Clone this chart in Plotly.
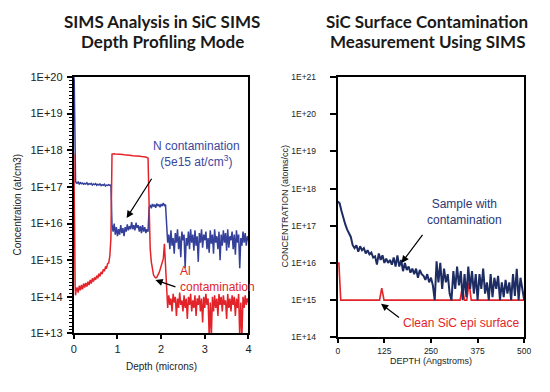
import numpy as np
import plotly.graph_objects as go

# ---------------- Left chart data (depth in microns) ----------------
left_depth_head = [0.0, 0.01, 0.02, 0.03, 0.04]
left_depth_body = list(np.round(np.arange(0.05, 4.0001, 0.025), 3))
left_depth = left_depth_head + left_depth_body

n_conc = (
    [1e20, 8e19, 1e19, 3e17, 1.5e17]
    + [1.3e17, 1.25e17, 1.35e17, 1.2e17, 1.3e17, 1.22e17, 1.28e17, 1.18e17, 1.25e17, 1.2e17,
       1.3e17, 1.15e17, 1.22e17, 1.18e17, 1.25e17, 1.12e17, 1.2e17, 1.15e17, 1.22e17, 1.1e17,
       1.18e17, 1.12e17, 1.2e17, 1.08e17, 1.15e17, 1.1e17, 1.18e17, 1.05e17, 1.12e17, 1.1e17,
       1.15e17, 1.1e17, 1.12e17]
    + [9e15, 6e15, 1e16, 5e15, 8e15, 4.5e15, 7e15, 5e15, 9e15, 5.5e15,
       7.5e15, 4.5e15, 8e15, 6e15, 9.5e15, 6.5e15, 8.5e15, 7e15, 1.1e16, 7e15,
       9e15, 6.5e15, 1.05e16, 7.5e15, 9e15, 6e15, 8.5e15, 5.5e15, 9e15, 6e15,
       8e15, 5.5e15, 7e15, 6e15]
    + [2.8e16, 3.2e16, 2.6e16, 3.4e16, 2.9e16, 3.3e16, 2.7e16, 3.5e16, 3e16, 3.3e16,
       2.8e16, 3.4e16, 3e16, 3.6e16, 3.1e16, 3.3e16]
    + [6e15, 3e15, 5e15, 2e15, 6.5e15, 2.5e15, 4e15, 1.5e15, 5.5e15, 3e15,
       7e15, 2e15, 4.5e15, 1.2e15, 6e15, 3.5e15, 5e15, 6e14, 4e15, 2.5e15,
       6e15, 2e15, 7e15, 3e15, 5e15, 1.8e15, 6.5e15, 2.5e15, 4.5e15, 9e14,
       5.5e15, 3e15, 7e15, 2.2e15, 5e15, 3.5e15, 6e15, 2e15, 4e15, 1.6e15,
       6.5e15, 2.8e15, 5e15, 1.5e15, 7e15, 3e15, 4.5e15, 2e15, 6e15, 1e15,
       5e15, 2.5e15, 6.5e15, 3e15, 5.5e15, 1.8e15, 7e15, 2.2e15, 4.5e15, 3.5e15,
       6e15, 2e15, 5e15, 1.4e15, 6.5e15, 3e15, 5e15, 6e14, 4e15, 2.5e15,
       6e15, 3e15, 5.5e15, 2.5e15, 4.5e15, 3.5e15]
)

al_conc = (
    [8e17, 2e17, 5e15, 2e14, 1.1e14]
    + [1.4e14, 1.8e14, 1.3e14, 2e14, 1.5e14, 2.1e14, 1.6e14, 2.3e14, 1.8e14, 2.4e14,
       1.9e14, 2.6e14, 2.1e14, 2.9e14, 2.3e14, 3.2e14, 2.6e14, 3.4e14, 2.9e14, 3.8e14,
       3.2e14, 4.3e14, 3.6e14, 4.8e14, 4.2e14, 5.6e14, 5e14, 6.5e14, 6.2e14, 8e14,
       8.5e14, 1.3e15, 4e15]
    + [7.8e17, 8e17, 8e17, 7.9e17, 7.9e17, 7.8e17, 7.8e17, 7.7e17, 7.7e17, 7.6e17,
       7.6e17, 7.5e17, 7.5e17, 7.4e17, 7.4e17, 7.3e17, 7.3e17, 7.2e17, 7.2e17, 7.1e17,
       7.1e17, 7e17, 7e17, 6.9e17, 6.9e17, 6.8e17, 6.8e17, 6.7e17, 6.7e17, 6.6e17,
       6.6e17, 6.5e17, 6.3e17, 6.1e17]
    + [3e16, 2e15, 9e14, 5.5e14, 4e14, 3.5e14, 3.3e14, 3.4e14, 3.8e14, 4.5e14,
       5.5e14, 7e14, 8.5e14, 1.1e15, 2.8e15, 8e14]
    + [1e14, 5e13, 1.1e14, 6e13, 9e13, 4e13, 1.2e14, 7e13, 1e14, 3e13,
       9e13, 5e13, 1.3e14, 6e13, 8e13, 4e13, 1.1e14, 5e13, 9e13, 2.5e13,
       1e14, 6e13, 1.2e14, 4e13, 8e13, 5e13, 1.1e14, 3e13, 9e13, 6e13,
       1.1e14, 4e13, 9e13, 2e13, 1e14, 5e13, 1.2e14, 6e13, 9e13, 8e12,
       7e13, 8e12, 1e14, 4e13, 1.1e14, 5e13, 9e13, 3e13, 1.2e14, 6e13,
       1e14, 4e13, 1.1e14, 6e13, 8e13, 2.5e13, 1.2e14, 5e13, 9e13, 4e13,
       1.1e14, 6e13, 1e14, 3e13, 9e13, 5e13, 1.2e14, 8e12, 7e13, 8e12,
       1e14, 5e13, 1.1e14, 6e13, 9e13, 7e13]
)

left_ytickvals = [1e13, 1e14, 1e15, 1e16, 1e17, 1e18, 1e19, 1e20]
left_yticktext = ["1E+13", "1E+14", "1E+15", "1E+16", "1E+17", "1E+18", "1E+19", "1E+20"]
left_xtickvals = [0, 1, 2, 3, 4]

# ---------------- Right chart data (depth in Angstroms) ----------------
right_depth = list(range(0, 501, 5))
sample_conc = [
    4.5e17, 4e17, 2.5e17, 1.5e17, 1.1e17, 8e16, 6e16, 5e16, 3e16, 2.5e16,
    3e16, 2e16, 2.8e16, 2.2e16, 2.5e16, 1.8e16, 2.2e16, 1.7e16, 1.9e16, 1.4e16,
    1.5e16, 9e15, 1.8e16, 1.2e16, 1.6e16, 1e16, 1.3e16, 1e16, 1.2e16, 9e15,
    1.4e16, 8e15, 1.6e16, 8e15, 1.2e16, 6e15, 1e16, 6.5e15, 8e15, 5.5e15,
    7e15, 5e15, 7e15, 4e15, 6.5e15, 5e15, 4.5e15, 3.5e15, 5e15, 3e15,
    4e15, 2.5e15, 1e15, 1.1e16, 3e15, 1e16, 2e15, 7e15, 3e15, 5e15,
    1.5e15, 1e15, 6e15, 2e15, 8e15, 2.5e15, 6e15, 1e15, 5e15, 1.2e15,
    8e15, 2e15, 6e15, 1.5e15, 5e15, 1e15, 5e15, 2e15, 7e15, 1.5e15,
    3e15, 1e15, 5e15, 1.2e15, 4e15, 2e15, 4.5e15, 1e15, 3e15, 1.2e15,
    3.5e15, 1.5e15, 3e15, 1e15, 5e15, 1.3e15, 7e15, 1e15, 4e15, 2e15,
    1e15,
]
clean_depth = [0, 3, 8, 112, 118, 124, 328, 334, 340, 346, 352, 358, 500]
clean_conc = [1e16, 1e16, 1e15, 1e15, 2.1e15, 1e15, 1e15, 2.2e15, 1e15, 1e15, 3e15, 1e15, 1e15]

right_ytickvals = [1e14, 1e15, 1e16, 1e17, 1e18, 1e19, 1e20, 1e21]
right_yticktext = ["1E+14", "1E+15", "1E+16", "1E+17", "1E+18", "1E+19", "1E+20", "1E+21"]
right_xtickvals = [0, 125, 250, 375, 500]

# ---------------- Figure ----------------
# The page body keeps its default 8px margin, so the figure is drawn 8px in
# from the window's top-left corner; size it to fit the 550x392 window.
OFF = 8
W, H = 550 - 2 * OFF, 392 - 2 * OFF
BLUE_L = "#34409a"
RED = "#e3232a"
NAVY = "#1d2c63"
TICKFONT = "Liberation Sans, Arial, sans-serif"


def px(x):  # window pixel -> paper x
    return (x - OFF) / W


def py(y):  # window pixel -> paper y
    return 1 - (y - OFF) / H


fig = go.Figure()
fig.add_trace(go.Scatter(x=left_depth, y=n_conc, mode="lines",
                         line=dict(color=BLUE_L, width=1.5), xaxis="x", yaxis="y"))
fig.add_trace(go.Scatter(x=left_depth, y=al_conc, mode="lines",
                         line=dict(color=RED, width=1.5), xaxis="x", yaxis="y"))
fig.add_trace(go.Scatter(x=clean_depth, y=clean_conc, mode="lines",
                         line=dict(color=RED, width=1.6), xaxis="x2", yaxis="y2"))
fig.add_trace(go.Scatter(x=right_depth, y=sample_conc, mode="lines",
                         line=dict(color=NAVY, width=2), xaxis="x2", yaxis="y2"))

axis_common = dict(showline=True, mirror=True, linecolor="black", linewidth=2,
                   showgrid=False, zeroline=False, ticks="outside", tickcolor="black",
                   tickwidth=1.5)

fig.update_layout(
    width=W, height=H, autosize=False,
    margin=dict(l=0, r=0, t=0, b=0),
    paper_bgcolor="white", plot_bgcolor="white",
    showlegend=False,
    font=dict(family=TICKFONT, color="#333333"),
    xaxis=dict(domain=[px(72), px(250)], range=[0, 4], tickvals=left_xtickvals,
               ticklen=4, tickfont=dict(size=11, color="#222"), anchor="y", **axis_common),
    yaxis=dict(domain=[py(338), py(73)], type="log", range=[13, 20],
               tickvals=left_ytickvals, ticktext=left_yticktext, ticklen=5,
               ticklabelstandoff=2,
               tickfont=dict(size=11, color="#222"), anchor="x",
               minor=dict(ticks="outside", ticklen=3, dtick=0.1, tickcolor="black",
                          tickwidth=1, showgrid=False),
               **axis_common),
    xaxis2=dict(domain=[px(341), px(531)], range=[0, 500], tickvals=right_xtickvals,
                ticklen=4, tickfont=dict(size=8.5, color="#222"), anchor="y2", **axis_common),
    yaxis2=dict(domain=[py(342), py(73)], type="log", range=[14, 21],
                tickvals=right_ytickvals, ticktext=right_yticktext, ticklen=6,
                ticklabelstandoff=12,
                tickfont=dict(size=8.5, color="#222"), anchor="x2", **axis_common),
)

ann = []
TITLEFONT = dict(family="Lato, Open Sans, sans-serif", size=17, color="#1a1a1a")
for txt, cx, cy in [("SIMS Analysis in SiC SIMS", 162, 16), ("Depth Profiling Mode", 162, 36),
                    ("SiC Surface Contamination", 432, 16), ("Measurement Using SIMS", 432, 36)]:
    ann.append(dict(text="<b>" + txt + "</b>", x=px(cx), y=py(cy), xref="paper", yref="paper",
                    showarrow=False, font=TITLEFONT, xanchor="center", yanchor="middle"))
# axis titles
ann.append(dict(text="Concentration (at/cm3)", x=px(15), y=py(205), xref="paper", yref="paper",
                textangle=-90, showarrow=False, font=dict(size=10, color="#222"),
                xanchor="center", yanchor="middle"))
ann.append(dict(text="Depth (microns)", x=px(161), y=py(372), xref="paper", yref="paper",
                showarrow=False, font=dict(size=10, color="#222"),
                xanchor="center", yanchor="middle"))
ann.append(dict(text="CONCENTRATION (atoms/cc)", x=px(287), y=py(207), xref="paper", yref="paper",
                textangle=-90, showarrow=False, font=dict(size=9, color="#222"),
                xanchor="center", yanchor="middle"))
ann.append(dict(text="DEPTH (Angstroms)", x=px(436), y=py(366), xref="paper", yref="paper",
                showarrow=False, font=dict(size=9, color="#222"),
                xanchor="center", yanchor="middle"))
# in-plot labels
ann.append(dict(text="N contamination<br>(5e15 at/cm<sup>3</sup>)", x=px(197), y=py(153),
                xref="paper", yref="paper", showarrow=False,
                font=dict(size=12, color="#3a479e"), xanchor="center", yanchor="middle"))
ann.append(dict(text="Al<br>contamination", x=px(178), y=py(282), xref="paper", yref="paper",
                showarrow=False, align="left", font=dict(size=12, color=RED),
                xanchor="left", yanchor="middle"))
ann.append(dict(text="Sample with<br>contamination", x=px(470), y=py(213), xref="paper", yref="paper",
                showarrow=False, font=dict(size=12, color="#2a3877"),
                xanchor="center", yanchor="middle"))
ann.append(dict(text="Clean SiC epi surface", x=px(405), y=py(327), xref="paper", yref="paper",
                showarrow=False, font=dict(size=12, color=RED),
                xanchor="left", yanchor="middle"))
# arrows
arrow_style = dict(showarrow=True, arrowhead=2, arrowsize=1.2, arrowwidth=1.2,
                   arrowcolor="black", text=" ")
ann.append(dict(x=1.21, y=16.15, xref="x", yref="y", ax=28, ay=-44, **arrow_style))
ann.append(dict(x=1.87, y=14.46, xref="x", yref="y", ax=23, ay=8, **arrow_style))
ann.append(dict(x=171, y=16.0, xref="x2", yref="y2", ax=24, ay=-32, **arrow_style))
ann.append(dict(x=116, y=14.9, xref="x2", yref="y2", ax=21, ay=16, **arrow_style))

fig.update_layout(annotations=ann)
fig.write_html("out.html")
